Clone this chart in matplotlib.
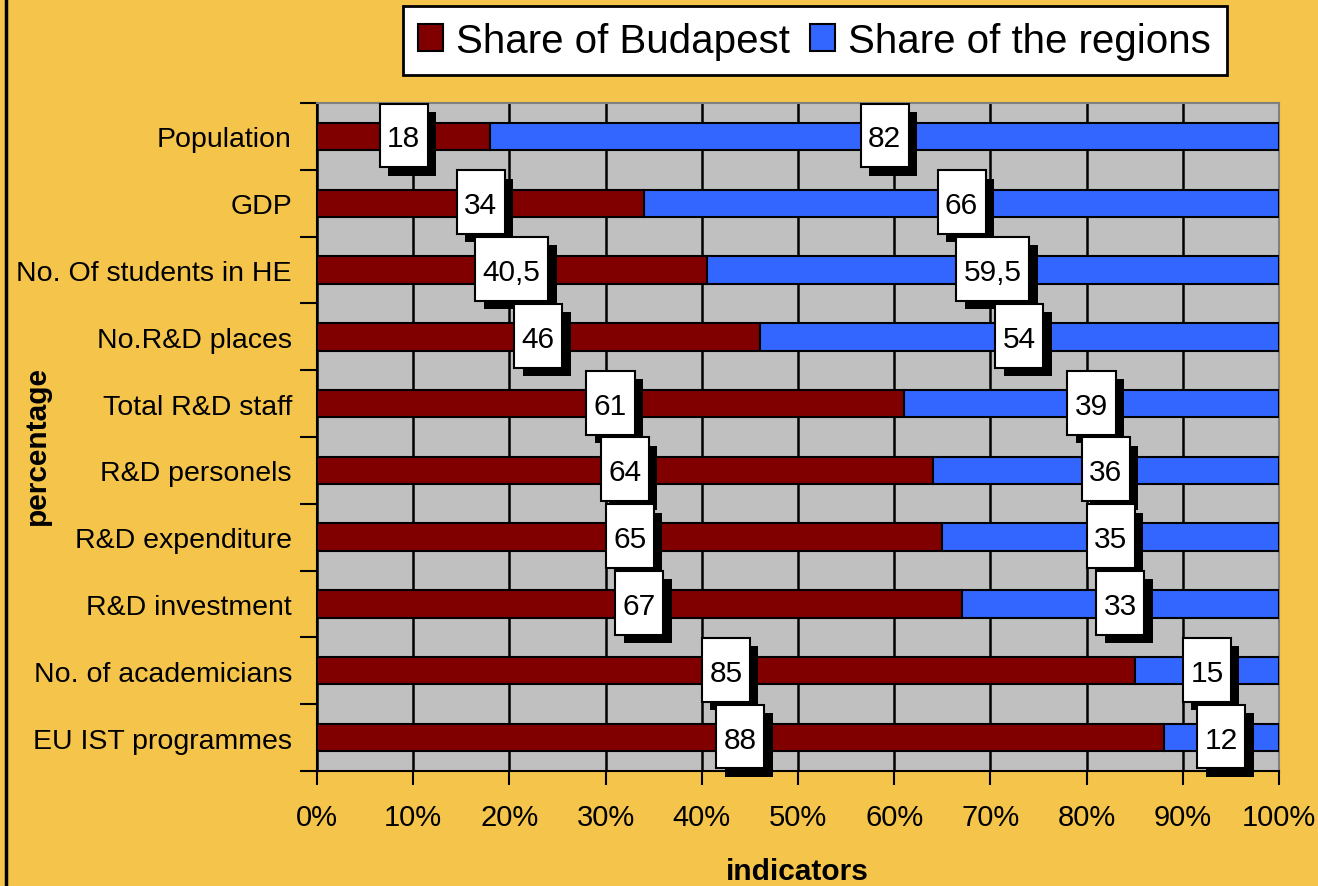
import matplotlib.pyplot as plt
import matplotlib.patheffects as pe
from matplotlib.path import Path
from matplotlib.lines import Line2D
import numpy as np

plt.rcParams['font.family'] = ['Liberation Sans', 'DejaVu Sans']

# data
indicators = ['Population', 'GDP', 'No. Of students in HE', 'No.R&D places',
              'Total R&D staff', 'R&D personels', 'R&D expenditure',
              'R&D investment', 'No. of academicians', 'EU IST programmes']
budapest = [18, 34, 40.5, 46, 61, 64, 65, 67, 85, 88]
regions = [82, 66, 59.5, 54, 39, 36, 35, 33, 15, 12]
budapest_labels = ['18', '34', '40,5', '46', '61', '64', '65', '67', '85', '88']
regions_labels = ['82', '66', '59,5', '54', '39', '36', '35', '33', '15', '12']

bg = '#F4C44B'
red = '#800000'
blue = '#3366FF'


def tall_box(x0, y0, width, height, mutation_size):
    # box with more padding on top/bottom than on the sides,
    # a bit more on top since digits have no descent
    px = 0.25 * mutation_size
    ptop = 0.70 * mutation_size
    pbot = 0.50 * mutation_size
    x0, x1 = x0 - px, x0 + width + px
    y0, y1 = y0 - pbot, y0 + height + ptop
    return Path([(x0, y0), (x1, y0), (x1, y1), (x0, y1), (x0, y0)], closed=True)


fig = plt.figure(figsize=(13.18, 8.87), dpi=100)
fig.patch.set_facecolor(bg)
ax = fig.add_axes([0.2405, 0.1297, 0.7300, 0.7530])
ax.set_facecolor('#C0C0C0')

y = np.arange(len(indicators))
h = 0.41
ax.barh(y, budapest, height=h, color=red, edgecolor='black', linewidth=1.5,
        label='Share of Budapest', zorder=3)
ax.barh(y, regions, left=budapest, height=h, color=blue, edgecolor='black',
        linewidth=1.5, label='Share of the regions', zorder=3)

ax.set_xlim(0, 100)
ax.set_ylim(len(indicators) - 0.5, -0.5)

# vertical grid
ax.set_xticks(np.arange(0, 101, 10))
ax.set_xticklabels([f'{v}%' for v in range(0, 101, 10)], fontsize=21)
ax.xaxis.grid(True, color='black', linewidth=1.8, zorder=1)
ax.set_axisbelow(True)
ax.tick_params(axis='x', direction='out', length=10, width=1.5, pad=13)

# category boundaries as major ticks, names on minor ticks
ax.set_yticks(np.arange(-0.5, len(indicators), 1.0))
ax.set_yticklabels([])
ax.tick_params(axis='y', which='major', direction='out', length=12, width=1.5)
ax.set_yticks(y, minor=True)
ax.set_yticklabels(indicators, minor=True, fontsize=20.5)
ax.tick_params(axis='y', which='minor', length=0, pad=18)

for s in ['left', 'bottom']:
    ax.spines[s].set_color('black')
    ax.spines[s].set_linewidth(1.5)
for s in ['top', 'right']:
    ax.spines[s].set_color('#808080')
    ax.spines[s].set_linewidth(1.5)

# value labels in white boxes with shadow
shadow = [pe.SimplePatchShadow(offset=(6, -6), shadow_rgbFace='black', alpha=1.0),
          pe.Normal()]
for i in range(len(indicators)):
    for xc, lab in [(budapest[i] / 2, budapest_labels[i]),
                    (budapest[i] + regions[i] / 2, regions_labels[i])]:
        t = ax.text(xc, i + 0.03, lab, fontsize=21.5, ha='center', va='center',
                    zorder=5 + i,
                    bbox=dict(boxstyle=tall_box, facecolor='white',
                              edgecolor='black', linewidth=1.5))
        t.get_bbox_patch().set_path_effects(shadow)

# axis titles
fig.text(0.605, 0.017, 'indicators', fontsize=21.5, fontweight='bold',
         ha='center', va='center')
fig.text(0.028, 0.498, 'percentage', fontsize=21.5, fontweight='bold',
         ha='center', va='center', rotation=90)

# legend
leg = fig.legend(loc='center', bbox_to_anchor=(0.618, 0.953), ncol=2,
                 fontsize=29, frameon=True, fancybox=False, handlelength=0.62,
                 handleheight=0.62, handletextpad=0.33, columnspacing=0.5,
                 borderpad=0.38)
leg.get_frame().set_edgecolor('black')
leg.get_frame().set_linewidth(2)
leg.get_frame().set_facecolor('white')
leg.get_frame().set_alpha(1)
for p in leg.get_patches():
    p.set_linewidth(1.5)

# black line on the left edge
fig.add_artist(Line2D([0.0045, 0.0045], [0, 1], color='black', linewidth=2.5))

fig.savefig('out.png', dpi=100, facecolor=bg)
